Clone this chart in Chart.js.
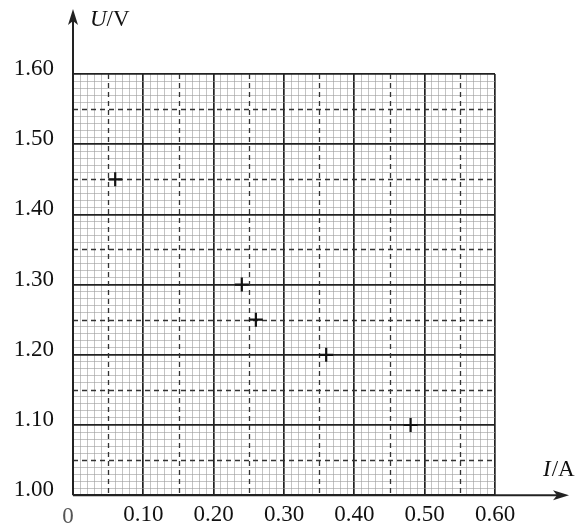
<!DOCTYPE html>
<html>
<head>
<meta charset="utf-8">
<script src="https://cdn.jsdelivr.net/npm/chart.js@4.4.1/dist/chart.umd.min.js"></script>
<style>
  html, body { margin: 0; padding: 0; background: #fff; }
  #wrap { width: 575px; height: 528px; }
</style>
</head>
<body>
<div id="wrap"><canvas id="chart"></canvas></div>
<script>
// measured points (I in A, U in V)
const currentA = [0.06, 0.24, 0.26, 0.36, 0.48];
const voltageV = [1.45, 1.30, 1.25, 1.20, 1.10];

const xRange = [0, 0.60];
const yRange = [1.00, 1.60];
const fineStep = 0.01;

const serif = '"Liberation Serif", "DejaVu Serif", serif';

// helpers for the graph-paper grid
const isMajor = v => Math.abs(v * 10 - Math.round(v * 10)) < 1e-6;
const isHalf  = v => !isMajor(v) && Math.abs(v * 20 - Math.round(v * 20)) < 1e-6;

function gridColor(c) {
  const v = c.tick ? c.tick.value : 0;
  if (isMajor(v)) return '#222';
  if (isHalf(v)) return 'rgba(0,0,0,0)';
  return '#9c9c9c';
}
function gridWidth(c) {
  const v = c.tick ? c.tick.value : 0;
  return isMajor(v) ? 1.7 : 0.6;
}

// dashed half-lines, axis arrows and axis titles
const paperPlugin = {
  id: 'paper',
  beforeDatasetsDraw(chart) {
    const { ctx, chartArea: a, scales: { x, y } } = chart;
    ctx.save();
    ctx.strokeStyle = '#333';
    ctx.lineWidth = 1.3;
    ctx.setLineDash([5, 4]);
    x.ticks.forEach(t => {
      if (!isHalf(t.value)) return;
      const px = Math.round(x.getPixelForValue(t.value)) + 0.5;
      ctx.beginPath(); ctx.moveTo(px, a.top); ctx.lineTo(px, a.bottom); ctx.stroke();
    });
    y.ticks.forEach(t => {
      if (!isHalf(t.value)) return;
      const py = Math.round(y.getPixelForValue(t.value)) + 0.5;
      ctx.beginPath(); ctx.moveTo(a.left, py); ctx.lineTo(a.right, py); ctx.stroke();
    });
    ctx.restore();
  },
  afterDraw(chart) {
    const { ctx, scales: { x, y } } = chart;
    const ox = x.getPixelForValue(0);
    const oy = y.getPixelForValue(1.0);
    ctx.save();
    ctx.strokeStyle = '#222';
    ctx.fillStyle = '#222';
    ctx.lineWidth = 2;

    // y axis with arrow
    ctx.beginPath(); ctx.moveTo(ox, oy); ctx.lineTo(ox, 20); ctx.stroke();
    ctx.beginPath(); ctx.moveTo(ox, 9); ctx.lineTo(ox - 5, 25); ctx.lineTo(ox, 21); ctx.lineTo(ox + 5, 25); ctx.closePath(); ctx.fill();

    // x axis with arrow
    ctx.beginPath(); ctx.moveTo(ox, oy); ctx.lineTo(558, oy); ctx.stroke();
    ctx.beginPath(); ctx.moveTo(569, oy); ctx.lineTo(553, oy - 5); ctx.lineTo(557, oy); ctx.lineTo(553, oy + 5); ctx.closePath(); ctx.fill();

    // axis titles
    ctx.fillStyle = '#111';
    ctx.textBaseline = 'middle';
    ctx.textAlign = 'left';
    ctx.font = 'italic 23px ' + serif;
    ctx.fillText('U', 90, 20);
    let w = ctx.measureText('U').width;
    ctx.font = '23px ' + serif;
    ctx.fillText('/V', 90 + w, 20);

    ctx.font = 'italic 23px ' + serif;
    ctx.fillText('I', 543, 470);
    w = ctx.measureText('I').width;
    ctx.font = '23px ' + serif;
    ctx.fillText('/A', 543 + w + 1, 470);

    // origin label
    ctx.textAlign = 'center';
    ctx.fillStyle = '#555';
    ctx.fillText('0', ox - 5, oy + 22);
    ctx.restore();
  }
};

new Chart(document.getElementById('chart'), {
  type: 'scatter',
  data: {
    datasets: [{
      data: currentA.map((v, i) => ({ x: v, y: voltageV[i] })),
      pointStyle: 'cross',
      pointRadius: 7,
      pointHoverRadius: 7,
      borderColor: '#111',
      backgroundColor: '#111',
      borderWidth: 2.2,
    }],
  },
  options: {
    responsive: true,
    maintainAspectRatio: false,
    animation: false,
    layout: { padding: { top: 74, right: 80, left: 0, bottom: 0 } },
    plugins: { legend: { display: false }, tooltip: { enabled: false } },
    scales: {
      x: {
        type: 'linear',
        min: xRange[0],
        max: xRange[1],
        afterFit: s => { s.height = 32; },
        border: { display: false },
        grid: { color: gridColor, lineWidth: gridWidth, drawTicks: false },
        ticks: {
          stepSize: fineStep,
          autoSkip: false,
          maxRotation: 0,
          padding: 6,
          color: '#111',
          font: { family: serif, size: 23 },
          callback: v => (isMajor(v) && v > 0 ? v.toFixed(2) : ''),
        },
      },
      y: {
        type: 'linear',
        min: yRange[0],
        max: yRange[1],
        afterFit: s => { s.width = 73; },
        border: { display: false },
        grid: { color: gridColor, lineWidth: gridWidth, drawTicks: false },
        ticks: {
          stepSize: fineStep,
          autoSkip: false,
          padding: 19,
          labelOffset: -5,
          color: '#111',
          font: { family: serif, size: 23 },
          callback: v => (isMajor(v) ? v.toFixed(2) : ''),
        },
      },
    },
  },
  plugins: [paperPlugin],
});
</script>
</body>
</html>
